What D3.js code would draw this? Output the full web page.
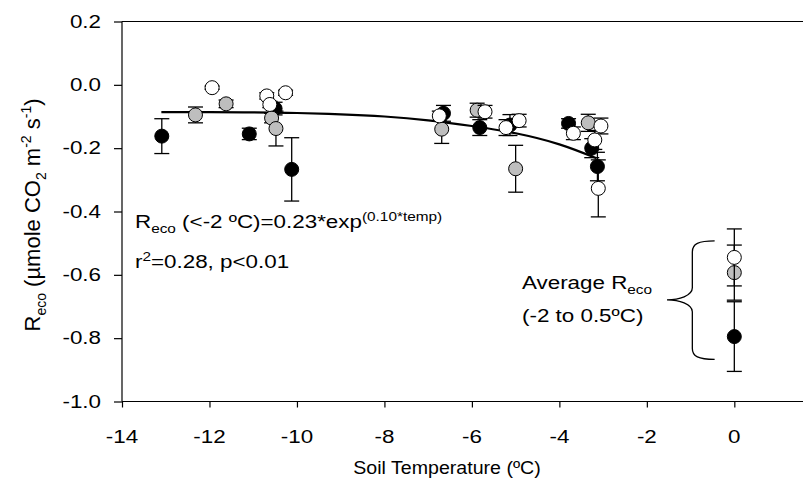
<!DOCTYPE html>
<html><head><meta charset="utf-8">
<script src="https://cdn.jsdelivr.net/npm/d3@7/dist/d3.min.js"></script>
<style>body{margin:0;background:#fff} text{font-family:"Liberation Sans",Arial,sans-serif;fill:#000}</style>
</head><body><svg id="c" width="803" height="482"></svg>
<script>
// ---- data ----
const xTicks = [-14, -12, -10, -8, -6, -4, -2, 0];
const yTicks = [-1.0, -0.8, -0.6, -0.4, -0.2, 0.0, 0.2];

const blackTemp = [-13.09, -11.09, -10.50, -10.12, -6.65, -5.82, -5.13, -3.79, -3.26, -3.13, 0];
const blackVal  = [-0.162, -0.155, -0.075, -0.267, -0.090, -0.135, -0.127, -0.122, -0.200, -0.258, -0.795];
const blackErr  = [0.055, 0.018, 0.020, 0.100, 0.025, 0.025, 0.033, 0.015, 0.030, 0.045, 0.110];

const grayTemp = [-12.32, -11.62, -10.58, -10.48, -6.69, -5.88, -5.00, -3.34, 0];
const grayVal  = [-0.095, -0.060, -0.105, -0.138, -0.140, -0.080, -0.265, -0.120, -0.593];
const grayErr  = [0.025, 0.012, 0.015, 0.055, 0.045, 0.022, 0.074, 0.027, 0.087];

const whiteTemp = [-11.94, -10.69, -10.62, -10.26, -6.745, -5.70, -5.22, -4.92, -3.68, -3.05, -3.19, -3.11, 0];
const whiteVal  = [-0.009, -0.035, -0.062, -0.025, -0.098, -0.085, -0.135, -0.113, -0.153, -0.130, -0.174, -0.327, -0.545];
const whiteErr  = [0.005, 0.010, 0.010, 0.008, 0.015, 0.020, 0.025, 0.020, 0.020, 0.025, 0.030, 0.090, 0.090];

const fitTemp = [-13.1, -12, -11, -10, -9, -8, -7, -6, -5, -4, -3.15];
const fitVal  = [-0.086, -0.086, -0.087, -0.089, -0.093, -0.100, -0.112, -0.130, -0.153, -0.188, -0.232];

// brace annotation extent (data units): tip temp, stem temp, arm temp / top, middle, bottom
const braceTemp = [-1.54, -0.96, -0.45];
const braceVal  = [-0.493, -0.679, -0.867];

const SX = 1.28; // horizontal glyph stretch seen in the reference

// ---- scales ----
const svg = d3.select('#c');
const x = d3.scaleLinear().domain([-14, 1.6]).range([122, 804.3]);
const y = d3.scaleLinear().domain([-1.0, 0.2]).range([401.5, 21.5]);

// top frame line
svg.append('line').attr('x1', x(-14)).attr('x2', 803).attr('y1', y(0.2)).attr('y2', y(0.2)).attr('stroke', '#000').attr('stroke-width', 1.2);

const gx = svg.append('g').attr('transform', `translate(0,${y(-1.0)})`)
  .call(d3.axisBottom(x).tickValues(xTicks).tickSize(6).tickFormat(''));
const gy = svg.append('g').attr('transform', `translate(${x(-14)},0)`)
  .call(d3.axisLeft(y).tickValues(yTicks).tickSize(8).tickFormat(''));
[gx, gy].forEach(g => {
  g.select('.domain').attr('stroke', '#000').attr('stroke-width', 1.2);
  g.selectAll('.tick line').attr('stroke', '#000').attr('stroke-width', 1.2);
});
gx.select('.domain').attr('d', `M${x(-14)},0H803`);
gy.select('.domain').attr('d', `M0,${y(0.2)}V${y(-1.0)}`);

// tick labels
xTicks.forEach(t => {
  svg.append('text').attr('transform', `translate(${x(t)},443) scale(${SX},1)`)
    .attr('text-anchor', 'middle').attr('font-size', 17.5).text(String(t));
});
yTicks.forEach(v => {
  svg.append('text').attr('transform', `translate(101,${y(v)}) scale(${SX},1)`)
    .attr('text-anchor', 'end').attr('dy', '0.35em').attr('font-size', 17.5)
    .text(d3.format('.1f')(v).replace('\u2212', '-'));
});

// axis titles
svg.append('text').attr('transform', `translate(447,474) scale(1.12,1)`)
  .attr('text-anchor', 'middle').attr('font-size', 17.5).text('Soil Temperature (ºC)');

const yt = svg.append('text').attr('transform', `translate(40,215) rotate(-90)`)
  .attr('text-anchor', 'middle').attr('font-size', 22);
yt.append('tspan').text('R');
yt.append('tspan').attr('font-size', 14).attr('dy', 6).text('eco');
yt.append('tspan').attr('dy', -6).text(' (µmole CO');
yt.append('tspan').attr('font-size', 14).attr('dy', 6).text('2');
yt.append('tspan').attr('dy', -6).text(' m');
yt.append('tspan').attr('font-size', 14).attr('dy', -9).text('-2');
yt.append('tspan').attr('dy', 9).text(' s');
yt.append('tspan').attr('font-size', 14).attr('dy', -9).text('-1');
yt.append('tspan').attr('dy', 9).text(')');

// fit curve
const fit = fitTemp.map((t, i) => [t, fitVal[i]]);
svg.append('path').datum(fit)
  .attr('d', d3.line().x(d => x(d[0])).y(d => y(d[1])).curve(d3.curveNatural))
  .attr('fill', 'none').attr('stroke', '#000').attr('stroke-width', 2.2);

// series
function drawSeries(temps, vals, errs, fill) {
  const data = temps.map((t, i) => ({t, v: vals[i], e: errs[i]}));
  const g = svg.append('g');
  const cap = 7.5;
  data.forEach(d => {
    const cx = x(d.t), y1 = y(d.v + d.e), y2 = y(d.v - d.e);
    g.append('line').attr('x1', cx).attr('x2', cx).attr('y1', y1).attr('y2', y2).attr('stroke', '#000').attr('stroke-width', 1.3);
    g.append('line').attr('x1', cx - cap).attr('x2', cx + cap).attr('y1', y1).attr('y2', y1).attr('stroke', '#000').attr('stroke-width', 1.3);
    g.append('line').attr('x1', cx - cap).attr('x2', cx + cap).attr('y1', y2).attr('y2', y2).attr('stroke', '#000').attr('stroke-width', 1.3);
  });
  g.selectAll('circle').data(data).join('circle')
    .attr('cx', d => x(d.t)).attr('cy', d => y(d.v)).attr('r', 7)
    .attr('fill', fill).attr('stroke', '#000').attr('stroke-width', 1);
}
drawSeries(blackTemp, blackVal, blackErr, '#000');
drawSeries(grayTemp, grayVal, grayErr, '#bebebe');
drawSeries(whiteTemp, whiteVal, whiteErr, '#fff');

// equation text
const eq = svg.append('text').attr('transform', `translate(135,228) scale(${SX},1)`).attr('font-size', 17.5);
eq.append('tspan').text('R');
eq.append('tspan').attr('font-size', 12).attr('dy', 5).text('eco');
eq.append('tspan').attr('dy', -5).text(' (<-2 ºC)=0.23*exp');
eq.append('tspan').attr('font-size', 12).attr('dy', -7).text('(0.10*temp)');
const eq2 = svg.append('text').attr('transform', `translate(135,268) scale(${SX},1)`).attr('font-size', 17.5);
eq2.append('tspan').text('r');
eq2.append('tspan').attr('font-size', 12).attr('dy', -7).text('2');
eq2.append('tspan').attr('dy', 7).text('=0.28, p<0.01');

// average annotation
const av = svg.append('text').attr('transform', `translate(522,289) scale(${SX},1)`).attr('font-size', 17.5);
av.append('tspan').text('Average R');
av.append('tspan').attr('font-size', 12).attr('dy', 5).text('eco');
svg.append('text').attr('transform', `translate(522,322) scale(${SX},1)`).attr('font-size', 17.5).text('(-2 to 0.5ºC)');

// brace
const bx0 = x(braceTemp[0]), bx1 = x(braceTemp[1]), bx2 = x(braceTemp[2]);
const by0 = y(braceVal[0]), bm = y(braceVal[1]), by1 = y(braceVal[2]);
const p = d3.path();
p.moveTo(bx2, by0);
p.bezierCurveTo(bx1 + 6, by0, bx1, by0 + 3, bx1, by0 + 11);
p.lineTo(bx1, bm - 12);
p.bezierCurveTo(bx1, bm - 4, bx0 + 12, bm, bx0, bm);
p.bezierCurveTo(bx0 + 12, bm, bx1, bm + 4, bx1, bm + 12);
p.lineTo(bx1, by1 - 11);
p.bezierCurveTo(bx1, by1 - 3, bx1 + 6, by1, bx2, by1);
svg.append('path').attr('d', p.toString()).attr('fill', 'none').attr('stroke', '#000').attr('stroke-width', 1.3);
</script></body></html>
